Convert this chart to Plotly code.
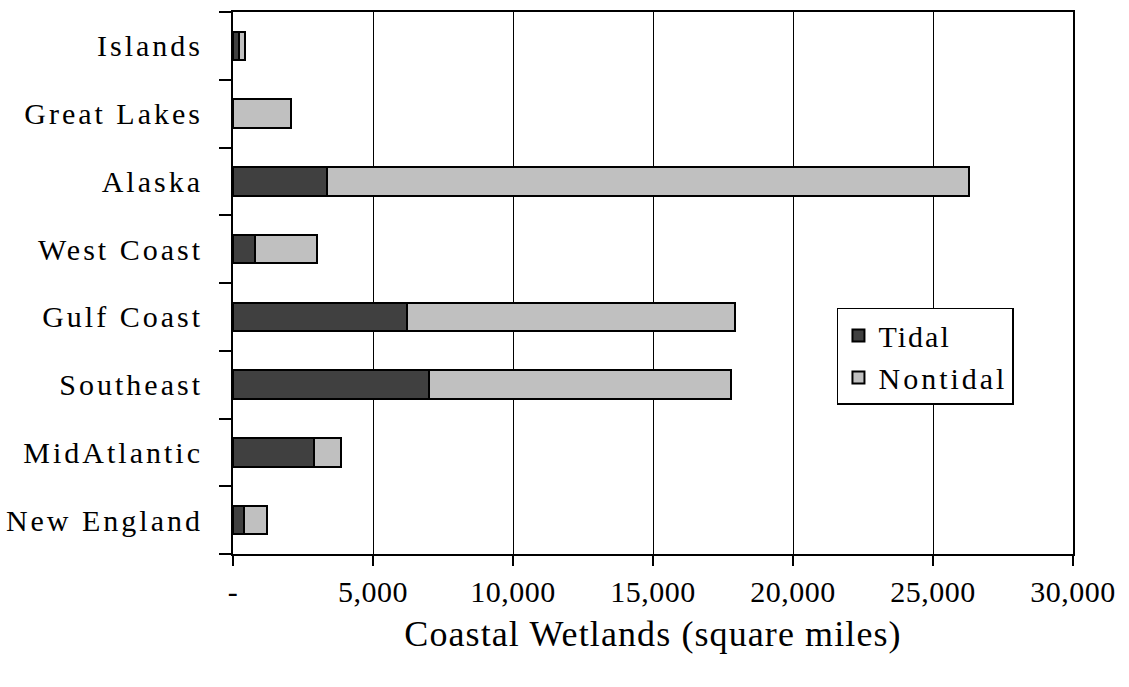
import plotly.graph_objects as go

regions = ["New England", "MidAtlantic", "Southeast", "Gulf Coast",
           "West Coast", "Alaska", "Great Lakes", "Islands"]
tidal = [410, 2880, 7000, 6210, 785, 3350, 0, 200]
nontidal = [800, 990, 10780, 11720, 2215, 22930, 2070, 240]

x_ticks = [0, 5000, 10000, 15000, 20000, 25000, 30000]
x_tick_labels = ["-", "5,000", "10,000", "15,000", "20,000", "25,000", "30,000"]
x_title = "Coastal Wetlands (square miles)"

FONT = "Liberation Serif, Times New Roman, serif"


def sp(t, ls=2):
    return f'<span style="letter-spacing:{ls}px">{t}</span>'


fig = go.Figure()
fig.add_trace(go.Bar(y=regions, x=tidal, orientation="h", name=sp("Tidal", 2),
                     marker=dict(color="#404040", line=dict(color="black", width=2))))
fig.add_trace(go.Bar(y=regions, x=nontidal, orientation="h", name=sp("Nontidal", 3),
                     marker=dict(color="#C0C0C0", line=dict(color="black", width=2))))

fig.update_layout(
    width=1129, height=687,
    margin=dict(l=233, r=56, t=12, b=133),
    barmode="stack", bargap=0.58,
    plot_bgcolor="white", paper_bgcolor="white",
    font=dict(family=FONT, size=30, color="black"),
    showlegend=True,
    legend=dict(x=0.719, y=0.454, xanchor="left", yanchor="top",
                bgcolor="white", bordercolor="black", borderwidth=1.5,
                traceorder="normal", itemwidth=30, font=dict(size=30)),
    xaxis=dict(range=[0, 30000], tickvals=x_ticks,
               ticktext=[sp(t, 0.5) for t in x_tick_labels],
               showgrid=True, gridcolor="black", gridwidth=1,
               showline=True, linecolor="black", linewidth=2, mirror=True,
               ticks="outside", ticklen=10, tickwidth=2, tickcolor="black",
               zeroline=False, automargin=False,
               title=dict(text=sp(x_title, 1.1), standoff=14)),
    yaxis=dict(type="category", categoryorder="array", categoryarray=regions,
               tickvals=regions, ticktext=[sp(r, 3) for r in regions],
               tickson="boundaries", automargin=False,
               showline=True, linecolor="black", linewidth=2, mirror=True,
               ticks="outside", ticklen=12, tickwidth=2, tickcolor="black",
               showgrid=False, ticklabelstandoff=22),
)

fig.write_html("out.html", config={"displayModeBar": False},
               post_script="document.body.style.margin='0';document.body.style.overflow='hidden';")
